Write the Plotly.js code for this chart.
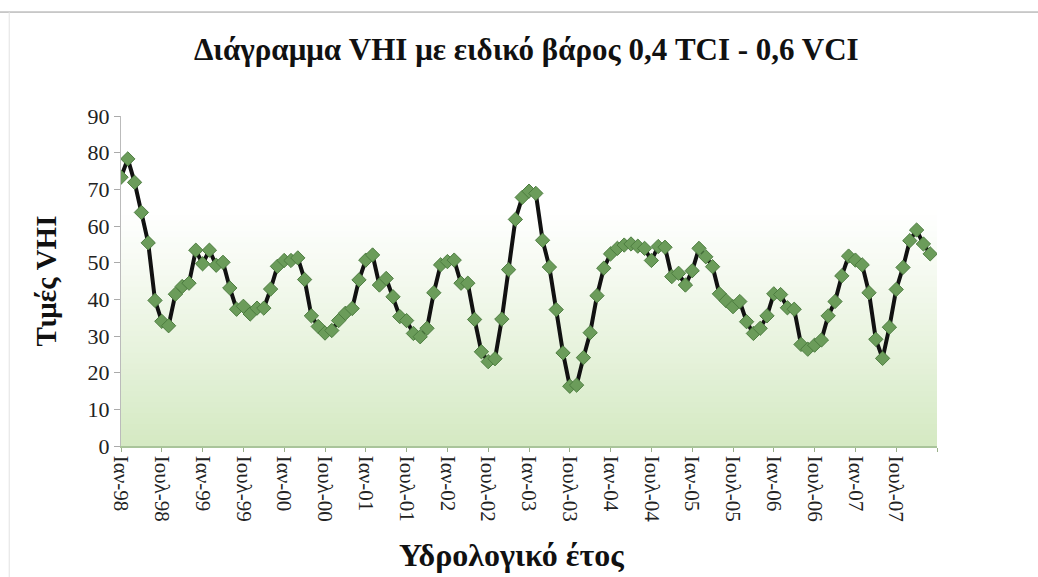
<!DOCTYPE html>
<html>
<head>
<meta charset="utf-8">
<script src="https://cdn.plot.ly/plotly-3.0.1.min.js"></script>
<style>html,body{margin:0;padding:0;background:#fff;}#chart{width:1038px;height:577px;}</style>
</head>
<body>
<div id="chart"></div>
<script>
// Monthly VHI values, Ιαν-98 .. Δεκ-07
var vhiValues = [
  73.3, 78.3, 71.9, 63.7, 55.4, 39.7, 34.0, 32.8, 41.4, 43.5, 44.4, 53.4,
  49.7, 53.4, 49.3, 50.1, 43.1, 37.3, 38.1, 36.0, 37.6, 37.6, 42.8, 49.0,
  50.6, 50.6, 51.3, 45.4, 35.5, 32.6, 30.8, 31.5, 34.2, 36.2, 37.5, 45.3,
  50.7, 52.1, 43.9, 45.7, 40.7, 35.3, 34.2, 30.7, 29.8, 32.1, 41.8, 49.4,
  50.3, 50.7, 44.4, 44.4, 34.5, 25.7, 23.0, 23.8, 34.6, 48.1, 61.8, 67.8,
  69.5, 68.9, 56.1, 48.8, 37.2, 25.4, 16.3, 16.6, 24.1, 30.9, 41.0, 48.5,
  52.4, 53.9, 54.8, 55.1, 54.5, 53.9, 50.6, 54.4, 54.2, 46.2, 47.1, 43.9,
  47.8, 53.9, 51.6, 48.9, 41.5, 39.6, 38.0, 39.4, 33.9, 30.7, 32.1, 35.5,
  41.5, 41.3, 37.7, 37.3, 27.7, 26.4, 27.5, 28.9, 35.5, 39.4, 46.4, 51.8,
  50.7, 49.4, 41.8, 29.1, 23.9, 32.4, 42.7, 48.7, 56.0, 58.9, 55.1, 52.4
];
var tickLabels = [
  'Ιαν-98','Ιουλ-98','Ιαν-99','Ιουλ-99','Ιαν-00','Ιουλ-00','Ιαν-01','Ιουλ-01',
  'Ιαν-02','Ιουλ-02','Ιαν-03','Ιουλ-03','Ιαν-04','Ιουλ-04','Ιαν-05','Ιουλ-05',
  'Ιαν-06','Ιουλ-06','Ιαν-07','Ιουλ-07',''
];
var yTicks = [0, 10, 20, 30, 40, 50, 60, 70, 80, 90];

var xIdx = vhiValues.map(function (v, i) { return i; });
var tickVals = tickLabels.map(function (t, i) { return i * 6; });

// gradient background in plot area (bands)
var shapes = [];
var nBands = 60;
for (var b = 0; b < nBands; b++) {
  var f0 = b / nBands, f1 = (b + 1) / nBands;
  var fm = (f0 + f1) / 2;
  var t = Math.max(0, 1 - fm / 0.72);
  t = Math.pow(t, 1.1);
  var r = Math.round(255 - (255 - 212) * t);
  var g = Math.round(255 - (255 - 233) * t);
  var bl = Math.round(255 - (255 - 194) * t);
  shapes.push({
    type: 'rect', xref: 'paper', yref: 'paper', layer: 'below',
    x0: 0, x1: 1, y0: f0, y1: f1 + 0.002,
    fillcolor: 'rgb(' + r + ',' + g + ',' + bl + ')', line: {width: 0}
  });
}
// scanned page border
shapes.push({type: 'line', xref: 'paper', yref: 'paper', x0: -0.15, x1: 1.13, y0: 1.315, y1: 1.315,
  line: {color: '#9a9a9a', width: 1}});
shapes.push({type: 'line', xref: 'paper', yref: 'paper', x0: -0.137, x1: -0.137, y0: -0.4, y1: 1.315,
  line: {color: '#e2e2e2', width: 1}});

var trace = {
  x: xIdx, y: vhiValues, type: 'scatter', mode: 'lines+markers',
  line: {color: '#111111', width: 4},
  marker: {symbol: 'diamond', size: 11, color: '#6b9c5a', line: {color: '#4d7d40', width: 1}},
  hoverinfo: 'y'
};

var serif = 'Liberation Serif';
var layout = {
  width: 1038, height: 577,
  margin: {l: 121, r: 101, t: 116, b: 131},
  paper_bgcolor: '#ffffff', plot_bgcolor: 'rgba(0,0,0,0)',
  showlegend: false,
  font: {family: serif, size: 18, color: '#222'},
  title: {text: '<b>Διάγραμμα VHI με ειδικό βάρος 0,4 TCI - 0,6 VCI</b>',
    font: {family: serif, size: 31, color: '#111'}, x: 0.507, xanchor: 'center', y: 0.915, yanchor: 'middle'},
  xaxis: {
    range: [0, 120], tickmode: 'array', tickvals: tickVals, ticktext: tickLabels,
    tickangle: 90, ticks: 'outside', ticklen: 4, tickcolor: '#9ab08a',
    showline: true, linecolor: '#a9c49a', linewidth: 1.5, showgrid: false, zeroline: false,
    automargin: false,
    tickfont: {family: serif, size: 21, color: '#222'}
  },
  yaxis: {
    range: [0, 90], tickmode: 'array', tickvals: yTicks, ticktext: yTicks.map(String),
    ticks: 'outside', ticklen: 6, tickcolor: '#aaaaaa',
    showline: true, linecolor: '#bbbbbb', linewidth: 1, showgrid: false, zeroline: false,
    automargin: false,
    tickfont: {family: serif, size: 22, color: '#222'},
    title: {text: '<b>Τιμές VHI</b>', font: {family: serif, size: 29, color: '#111'}, standoff: 22}
  },
  annotations: [{
    text: '<b>Υδρολογικό έτος</b>', xref: 'paper', yref: 'paper', x: 0.478, y: -0.33,
    xanchor: 'center', yanchor: 'middle', showarrow: false,
    font: {family: serif, size: 32, color: '#111'}
  }],
  shapes: shapes
};

Plotly.newPlot('chart', [trace], layout, {displayModeBar: false, staticPlot: true});
</script>
</body>
</html>
